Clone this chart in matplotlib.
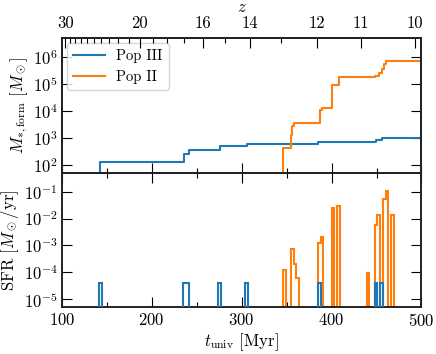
"""
Cumulative stellar mass formed and SFR (Pop III / Pop II) vs. cosmic time,
with redshift on the top axis.
"""

import matplotlib

matplotlib.use("Agg")
import matplotlib.pyplot as plt
import numpy as np
from matplotlib.ticker import LogLocator, MultipleLocator, NullLocator

# --- Data ---
# cumulative stellar mass formed: time of each jump (Myr) and level after it (Msun)
POP3_T = [143, 236, 241, 276, 305.5, 385, 449, 455.6]
POP3_M = [120, 240, 360, 490, 600, 720, 840, 970]
POP2_T = [345.6, 354.4, 356.2, 358.5, 387, 388.9, 400, 408.1, 448, 452.9, 456.3, 458.2, 460.8]
POP2_M = [410, 1260, 2700, 3560, 1.05e4, 1.26e4, 8.7e4, 1.74e5, 2.0e5, 2.45e5, 3.5e5, 5.4e5, 7.1e5]

# SFR histogram: left edge of each non-empty 3 Myr bin and its value (Msun/yr)
POP3_SFR_BIN = [142, 235, 238, 274, 304, 385, 448, 454]
POP3_SFR = [4e-5, 4e-5, 4e-5, 4e-5, 4e-5, 4e-5, 4e-5, 4e-5]
POP2_SFR_BIN = [346, 355, 358, 361, 385, 388, 400, 406, 439, 448, 451, 457, 460, 466]
POP2_SFR = [1.27e-4, 7.6e-4, 2.0e-4, 6.1e-5, 1.2e-3, 2.0e-3, 2.45e-2, 2.8e-2,
            9.5e-5, 5.9e-3, 1.3e-2, 5.4e-2, 1.05e-1, 1.39e-2]

BIN_WIDTH = 3.0
EDGES = np.arange(100, 503, BIN_WIDTH)

# redshift ticks on the top axis
Z_MAJOR = [30, 20, 16, 14, 12, 11, 10]
Z_MINOR = [29, 28, 27, 26, 25, 24, 23, 22, 21, 19, 18, 17, 15, 13]

T_MIN, T_MAX = 100, 500
T_SCALE = 17990.0  # Myr, matter-dominated age-redshift relation

C_POP3 = "#1f77b4"
C_POP2 = "#ff7f0e"
FS = 12

plt.rcParams.update(
    {
        "font.family": "serif",
        "font.serif": ["cmr10"],
        "mathtext.fontset": "cm",
        "axes.formatter.use_mathtext": True,
        "font.size": FS,
        "axes.linewidth": 1.4,
        "axes.edgecolor": "#222222",
        "xtick.direction": "in",
        "ytick.direction": "in",
        "xtick.major.size": 7,
        "ytick.major.size": 7,
        "xtick.minor.size": 3.5,
        "ytick.minor.size": 3.5,
        "xtick.major.width": 0.8,
        "ytick.major.width": 0.8,
        "xtick.minor.width": 0.8,
        "xtick.major.pad": 3,
        "ytick.major.pad": 3,
        "ytick.right": True,
    }
)


def z_to_t(z):
    return T_SCALE * (1.0 + z) ** -1.5


def binned(starts, values):
    sfr = np.zeros(len(EDGES) - 1)
    for s, v in zip(starts, values):
        sfr[int(round((s - EDGES[0]) / BIN_WIDTH))] = v
    return sfr


def cumulative(ts, ms):
    x = [T_MIN] + list(ts) + [T_MAX]
    y = [1e-3] + list(ms) + [ms[-1]]
    return x, y


fig, (ax1, ax2) = plt.subplots(2, 1, figsize=(4.36, 3.54), dpi=100, sharex=True)
fig.subplots_adjust(left=0.1415, right=0.9667, top=0.8927, bottom=0.1314, hspace=0)

# --- top: cumulative mass formed ---
x, y = cumulative(POP3_T, POP3_M)
ax1.step(x, y, where="post", color=C_POP3, lw=1.5, label="Pop III")
x, y = cumulative(POP2_T, POP2_M)
ax1.step(x, y, where="post", color=C_POP2, lw=1.5, label="Pop II")
ax1.set_yscale("log")
ax1.set_ylim(50, 5e6)
ax1.set_xlim(T_MIN, T_MAX)
ax1.set_ylabel(r"$M_{*,\rm form}$ [$M_\odot$]", labelpad=2)
ax1.legend(loc="upper left", fontsize=10.5, handlelength=2.2, borderaxespad=0.35)
ax1.tick_params(axis="x", which="both", top=False, bottom=True)

# --- bottom: SFR histogram ---
ax2.stairs(binned(POP2_SFR_BIN, POP2_SFR), EDGES, color=C_POP2, lw=1.5, baseline=1e-12, zorder=2)
ax2.stairs(binned(POP3_SFR_BIN, POP3_SFR), EDGES, color=C_POP3, lw=1.5, baseline=1e-12, zorder=3)
ax2.set_yscale("log")
ax2.set_ylim(5e-6, 0.5)
ax2.set_xlim(T_MIN, T_MAX)
ax2.set_ylabel(r"SFR [$M_\odot/{\rm yr}$]", labelpad=2)
ax2.set_xlabel(r"$t_{\rm univ}$ [Myr]", labelpad=2)
ax2.tick_params(axis="x", which="both", top=True, bottom=True)

for ax in (ax1, ax2):
    ax.xaxis.set_major_locator(MultipleLocator(100))
    ax.xaxis.set_minor_locator(MultipleLocator(50))
    ax.yaxis.set_major_locator(LogLocator(base=10, numticks=30))
    ax.yaxis.set_minor_locator(NullLocator())

# --- redshift axis on top ---
ax_z = ax1.twiny()
ax_z.set_xlim(T_MIN, T_MAX)
ax_z.set_xticks([z_to_t(z) for z in Z_MAJOR])
ax_z.set_xticklabels([str(z) for z in Z_MAJOR])
ax_z.set_xticks([z_to_t(z) for z in Z_MINOR], minor=True)
ax_z.tick_params(axis="x", which="both", direction="in", pad=5)
ax_z.set_xlabel(r"$z$", labelpad=3)

fig.savefig("out.png", dpi=100)
